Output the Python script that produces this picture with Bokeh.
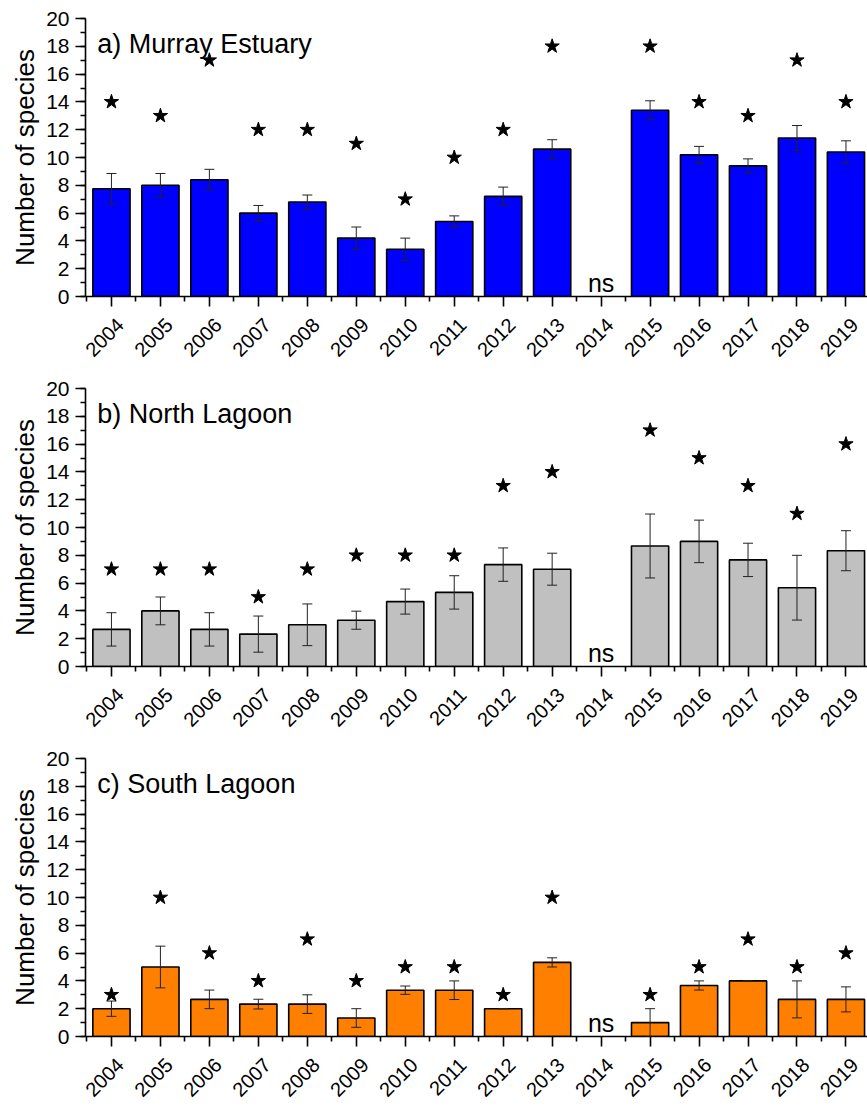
import math
from bokeh.plotting import figure
from bokeh.models import (ColumnDataSource, FixedTicker, Whisker, Label,
                          TeeHead, Range1d, LinearAxis)
from bokeh.layouts import column
from bokeh.embed import file_html
from bokeh.resources import INLINE

years = [str(y) for y in range(2004, 2020)]

murray_mean = [7.75, 8.0, 8.4, 6.0, 6.8, 4.2, 3.4, 5.4, 7.2, 10.6, None, 13.4, 10.2, 9.4, 11.4, 10.4]
murray_err = [1.1, 0.85, 0.75, 0.55, 0.5, 0.8, 0.8, 0.4, 0.67, 0.68, None, 0.68, 0.6, 0.5, 0.9, 0.8]
murray_total = [14, 13, 17, 12, 12, 11, 7, 10, 12, 18, None, 18, 14, 13, 17, 14]

north_mean = [2.67, 4.0, 2.67, 2.33, 3.0, 3.33, 4.67, 5.33, 7.33, 7.0, None, 8.67, 9.0, 7.67, 5.67, 8.33]
north_err = [1.2, 1.0, 1.2, 1.3, 1.5, 0.65, 0.9, 1.2, 1.2, 1.15, None, 2.3, 1.53, 1.2, 2.33, 1.44]
north_total = [7, 7, 7, 5, 7, 8, 8, 8, 13, 14, None, 17, 15, 13, 11, 16]

south_mean = [2.0, 5.0, 2.67, 2.33, 2.33, 1.33, 3.33, 3.33, 2.0, 5.33, None, 1.0, 3.67, 4.0, 2.67, 2.67]
south_err = [0.55, 1.5, 0.67, 0.35, 0.67, 0.67, 0.3, 0.67, 0.0, 0.33, None, 1.0, 0.33, 0.0, 1.33, 0.9]
south_total = [3, 10, 6, 4, 7, 4, 5, 5, 3, 10, None, 3, 5, 7, 5, 6]

panels = [
    ("a) Murray Estuary", murray_mean, murray_err, murray_total, "#0000FF"),
    ("b) North Lagoon", north_mean, north_err, north_total, "#C0C0C0"),
    ("c) South Lagoon", south_mean, south_err, south_total, "#FF8000"),
]

FONT = "Liberation Sans"
X0, X1 = -0.53, 15.44
LABEL_SHIFT = 0.18  # year labels sit slightly right of their ticks (Origin-style)


def make_panel(title, mean, err, total, color, bottom_border):
    idx = [i for i, m in enumerate(mean) if m is not None]
    ns_idx = [i for i, m in enumerate(mean) if m is None]
    src = ColumnDataSource(dict(
        x=idx,
        top=[mean[i] for i in idx],
        upper=[mean[i] + err[i] for i in idx],
        lower=[max(mean[i] - err[i], 0) for i in idx],
        total=[total[i] for i in idx],
    ))
    p = figure(width=867, height=18 + 278 + bottom_border,
               x_range=Range1d(X0, X1), y_range=Range1d(0, 20),
               output_backend="svg", toolbar_location=None,
               min_border_left=85, min_border_right=0,
               min_border_top=18, min_border_bottom=bottom_border)
    p.extra_x_ranges = {"lab": Range1d(X0 - LABEL_SHIFT, X1 - LABEL_SHIFT)}
    p.outline_line_color = None
    p.xgrid.visible = False
    p.ygrid.visible = False

    p.vbar(x="x", top="top", width=0.76, bottom=0, source=src,
           fill_color=color, line_color="black", line_width=1.6)

    w = Whisker(base="x", upper="upper", lower="lower", source=src,
                level="annotation", line_color="#222222", line_width=1,
                upper_head=TeeHead(size=10, line_color="#222222", line_width=1),
                lower_head=TeeHead(size=10, line_color="#222222", line_width=1))
    p.add_layout(w)

    p.scatter(x="x", y="total", source=src, marker="star", size=15,
              fill_color="black", line_color="black")

    for i in ns_idx:
        p.add_layout(Label(x=i, y=0, y_offset=14, text="ns", text_align="center",
                           text_baseline="alphabetic", text_font=FONT,
                           text_font_size="25px", text_color="black"))

    p.add_layout(Label(x=-0.29, y=18.2, text=title, text_font=FONT,
                       text_font_size="27px", text_baseline="alphabetic",
                       text_color="black"))

    # main x axis: line and ticks
    xa = p.xaxis[0]
    xa.ticker = FixedTicker(ticks=list(range(16)),
                            minor_ticks=[i + 0.5 for i in range(-1, 16)])
    xa.major_label_overrides = {i: "" for i in range(16)}
    xa.major_label_text_font_size = "1px"
    xa.major_label_standoff = 0
    xa.axis_line_width = 1.6
    xa.axis_line_color = "black"
    xa.major_tick_out = 10
    xa.major_tick_in = 0
    xa.minor_tick_out = 5
    xa.minor_tick_in = 0
    xa.major_tick_line_width = 1.6
    xa.minor_tick_line_width = 1.6

    # label axis (stacked below the tick axis): the year labels
    la = LinearAxis(x_range_name="lab",
                    ticker=FixedTicker(ticks=list(range(16)), minor_ticks=[]),
                    major_label_overrides={i: years[i] for i in range(16)},
                    major_label_orientation=math.pi / 4,
                    major_label_text_font=FONT, major_label_text_font_size="20px",
                    major_label_text_color="black", major_label_standoff=15,
                    axis_line_color=None, major_tick_line_color=None,
                    minor_tick_line_color=None, major_tick_out=0, major_tick_in=0,
                    minor_tick_out=0, minor_tick_in=0)
    p.add_layout(la, "below")

    # y axis
    ya = p.yaxis[0]
    ya.ticker = FixedTicker(ticks=list(range(0, 21, 2)), minor_ticks=list(range(0, 21)))
    ya.axis_label = "Number of species"
    ya.axis_label_text_font = FONT
    ya.axis_label_text_font_size = "26px"
    ya.axis_label_text_font_style = "normal"
    ya.axis_label_text_color = "black"
    ya.axis_label_standoff = 3
    ya.major_label_text_font = FONT
    ya.major_label_text_font_size = "21px"
    ya.major_label_text_color = "black"
    ya.major_label_standoff = 6
    ya.axis_line_width = 1.6
    ya.axis_line_color = "black"
    ya.major_tick_out = 10
    ya.major_tick_in = 0
    ya.minor_tick_out = 5
    ya.minor_tick_in = 0
    ya.major_tick_line_width = 1.6
    ya.minor_tick_line_width = 1.6
    return p


figs = []
for k, (title, mean, err, total, color) in enumerate(panels):
    bb = 74 if k < 2 else 72
    figs.append(make_panel(title, mean, err, total, color, bb))

layout = column(*figs, spacing=0)
open("out.html", "w").write(file_html(layout, INLINE))
